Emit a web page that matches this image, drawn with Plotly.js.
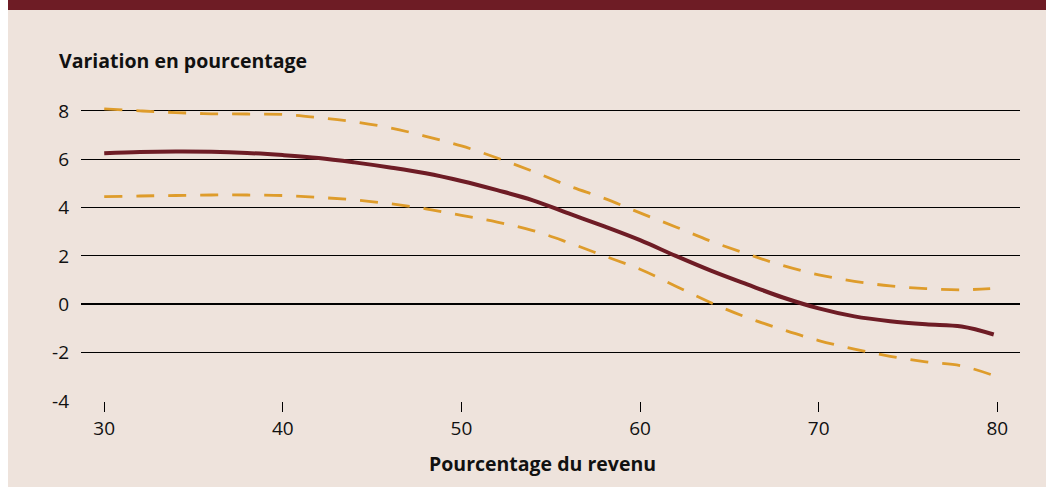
<!DOCTYPE html>
<html>
<head>
<meta charset="utf-8">
<script src="https://cdn.plot.ly/plotly-3.0.1.min.js"></script>
<style>
  html, body { margin: 0; padding: 0; background: #ffffff; }
  #chart { position: absolute; left: 8px; top: 0px; width: 1038px; height: 487px; }
</style>
</head>
<body>
<div id="chart"></div>
<script>
// Income percentile (x)
const xCentral = [30, 32, 34, 36, 38, 40, 42, 44, 46, 48, 50, 52, 54, 56, 58, 60, 62, 64, 66, 68, 70, 72, 74, 76, 78, 79.8];
const yCentral = [6.25, 6.3, 6.32, 6.31, 6.26, 6.17, 6.05, 5.87, 5.66, 5.42, 5.1, 4.72, 4.3, 3.76, 3.22, 2.65, 2.0, 1.38, 0.82, 0.28, -0.17, -0.5, -0.7, -0.83, -0.92, -1.25];

const xUpper = [30, 32, 34, 36, 38, 40, 42, 44, 46, 48, 50, 52, 54, 56, 58, 60, 62, 64, 66, 68, 70, 72, 74, 76, 78, 79.6];
const yUpper = [8.08, 8.0, 7.93, 7.88, 7.87, 7.85, 7.72, 7.55, 7.3, 6.95, 6.55, 6.05, 5.5, 4.9, 4.38, 3.78, 3.2, 2.6, 2.08, 1.6, 1.22, 0.95, 0.76, 0.65, 0.6, 0.65];

const xLower = [30, 32, 34, 36, 38, 40, 42, 44, 46, 48, 50, 52, 54, 56, 58, 60, 62, 64, 66, 68, 70, 72, 74, 76, 78, 79.7];
const yLower = [4.45, 4.48, 4.5, 4.52, 4.52, 4.5, 4.42, 4.32, 4.16, 3.95, 3.68, 3.4, 3.05, 2.55, 2.0, 1.45, 0.75, 0.05, -0.55, -1.05, -1.5, -1.85, -2.15, -2.38, -2.55, -2.92];

const xTicks = [30, 40, 50, 60, 70, 80];
const yTicks = [-4, -2, 0, 2, 4, 6, 8];

const yTitle = "Variation en pourcentage";
const xTitle = "Pourcentage du revenu";

const FONT = "Open Sans, Noto Sans, sans-serif";
const BG = "#EEE3DC";
const RED = "#6E1C25";
const ORANGE = "#DE9C2B";
const TXT = "#111111";

const traces = [
  { x: xUpper, y: yUpper, mode: "lines", line: { color: ORANGE, width: 2.8, dash: "18px,14px", shape: "spline" }, hoverinfo: "skip", showlegend: false },
  { x: xLower, y: yLower, mode: "lines", line: { color: ORANGE, width: 2.8, dash: "18px,14px", shape: "spline" }, hoverinfo: "skip", showlegend: false },
  { x: xCentral, y: yCentral, mode: "lines", line: { color: RED, width: 4, shape: "spline" }, hoverinfo: "skip", showlegend: false }
];

const layout = {
  width: 1038, height: 487,
  margin: { l: 73, r: 26, t: 100, b: 86, pad: 0 },
  paper_bgcolor: BG, plot_bgcolor: BG,
  font: { family: FONT, size: 19, color: TXT },
  showlegend: false,
  xaxis: {
    range: [28.7, 81.27],
    tickvals: xTicks, ticktext: xTicks.map(String),
    ticks: "outside", ticklen: 10, tickwidth: 1, tickcolor: "#000",
    showgrid: false, zeroline: false,
    showline: false,
    tickfont: { family: FONT, size: 19, color: TXT },
    fixedrange: true
  },
  yaxis: {
    range: [-4, 8.45],
    tickvals: yTicks, ticktext: yTicks.map(String),
    ticks: "", showline: false,
    showgrid: true, gridcolor: "#000", gridwidth: 1,
    zeroline: true, zerolinecolor: "#000", zerolinewidth: 2,
    ticklabelstandoff: 11,
    tickfont: { family: FONT, size: 19, color: TXT },
    fixedrange: true
  },
  shapes: [
    { type: "rect", xref: "paper", yref: "paper", x0: -0.0778, x1: 1.03, y0: 1.299, y1: 1.34, fillcolor: RED, line: { width: 0 }, layer: "above" }
  ],
  annotations: [
    { text: "<b>" + yTitle + "</b>", xref: "paper", yref: "paper", x: -0.0256, y: 1.13, xanchor: "left", yanchor: "middle", showarrow: false, font: { family: FONT, size: 19.5, color: TXT } },
    { text: "<b>" + xTitle + "</b>", xref: "paper", yref: "paper", x: 0.491, y: -0.207, xanchor: "center", yanchor: "middle", showarrow: false, font: { family: FONT, size: 19.5, color: TXT } }
  ]
};

Plotly.newPlot("chart", traces, layout, { staticPlot: true, displayModeBar: false });
</script>
</body>
</html>
